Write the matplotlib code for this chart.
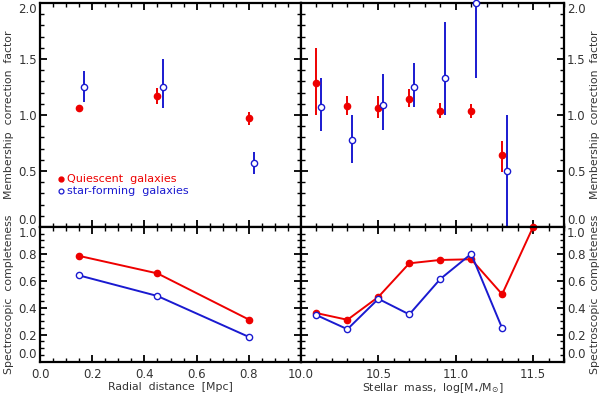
import matplotlib
matplotlib.use("Agg")
import matplotlib.pyplot as plt
from matplotlib.ticker import MultipleLocator
import numpy as np

# ---------------- data ----------------
# Radial distance panel (membership correction factor)
rad_q_x = [0.15, 0.45, 0.80]
rad_q_y = [1.06, 1.17, 0.97]
rad_q_lo = [1.04, 1.10, 0.91]
rad_q_hi = [1.08, 1.24, 1.03]

rad_sf_x = [0.17, 0.47, 0.82]
rad_sf_y = [1.25, 1.25, 0.57]
rad_sf_lo = [1.12, 1.06, 0.47]
rad_sf_hi = [1.39, 1.50, 0.67]

# Stellar mass panel (membership correction factor)
mass_q_x = [10.1, 10.3, 10.5, 10.7, 10.9, 11.1, 11.3]
mass_q_y = [1.29, 1.08, 1.06, 1.14, 1.04, 1.04, 0.64]
mass_q_lo = [1.00, 1.00, 0.97, 1.07, 0.97, 0.97, 0.49]
mass_q_hi = [1.60, 1.17, 1.17, 1.23, 1.11, 1.10, 0.77]

mass_sf_x = [10.13, 10.33, 10.53, 10.73, 10.93, 11.13, 11.33]
mass_sf_y = [1.07, 0.78, 1.09, 1.25, 1.33, 2.00, 0.50]
mass_sf_lo = [0.86, 0.57, 0.87, 1.07, 1.00, 1.33, 0.00]
mass_sf_hi = [1.33, 1.00, 1.37, 1.46, 1.83, 2.60, 1.00]

# Spectroscopic completeness
comp_rad_x = [0.15, 0.45, 0.80]
comp_rad_q = [0.785, 0.655, 0.312]
comp_rad_sf = [0.64, 0.487, 0.183]

comp_mass_q_x = [10.1, 10.3, 10.5, 10.7, 10.9, 11.1, 11.3, 11.5]
comp_mass_q = [0.36, 0.31, 0.48, 0.73, 0.755, 0.76, 0.50, 1.00]
comp_mass_sf_x = [10.1, 10.3, 10.5, 10.7, 10.9, 11.1, 11.3]
comp_mass_sf = [0.345, 0.24, 0.466, 0.35, 0.613, 0.80, 0.248]

top_yticks = [0.0, 0.5, 1.0, 1.5, 2.0]
bot_yticks = [0.0, 0.2, 0.4, 0.6, 0.8, 1.0]
rad_xticks = [0.0, 0.2, 0.4, 0.6, 0.8]
mass_xticks = [10.0, 10.5, 11.0, 11.5]

RED = "#ee0000"
BLUE = "#1a1ad0"
TXT = "#333333"

plt.rcParams['font.family'] = ['DejaVu Sans']
plt.rcParams['font.size'] = 8

TICK_FS = 8.5
LAB_FS = 7.8

fig = plt.figure(figsize=(6.0, 3.96), dpi=100)

L0, W0 = 40/600, 261/600
L1, W1 = 301/600, 263/600
B_top, H_top = 1 - 227/396, 224/396
B_bot, H_bot = 1 - 361.5/396, 134.5/396

ax_tl = fig.add_axes([L0, B_top, W0, H_top])
ax_tr = fig.add_axes([L1, B_top, W1, H_top])
ax_bl = fig.add_axes([L0, B_bot, W0, H_bot])
ax_br = fig.add_axes([L1, B_bot, W1, H_bot])


def style(ax):
    for s in ax.spines.values():
        s.set_linewidth(1.6)
        s.set_color("black")
    ax.tick_params(which="both", direction="in", top=True, right=True,
                   color="black", labelcolor=TXT, labelsize=TICK_FS, pad=2)
    ax.tick_params(axis="x", which="both", pad=4.5)
    ax.tick_params(which="major", length=5, width=1.3)
    ax.tick_params(which="minor", length=3, width=1.0)


def errpts(ax, x, y, lo, hi, color, filled):
    x = np.asarray(x); y = np.asarray(y)
    yerr = [y - np.asarray(lo), np.asarray(hi) - y]
    ax.errorbar(x, y, yerr=yerr, fmt="none", ecolor=color, elinewidth=1.4,
                capsize=0, zorder=2)
    if filled:
        ax.plot(x, y, "o", ms=4.5, color=color, mec=color, zorder=3, clip_on=False)
    else:
        ax.plot(x, y, "o", ms=4.5, mfc="white", mec=color, mew=1.0, zorder=3,
                clip_on=False)


# top-left
errpts(ax_tl, rad_q_x, rad_q_y, rad_q_lo, rad_q_hi, RED, True)
errpts(ax_tl, rad_sf_x, rad_sf_y, rad_sf_lo, rad_sf_hi, BLUE, False)
ax_tl.set_xlim(0, 1.0)
ax_tl.set_ylim(0, 2.0)
ax_tl.set_ylabel("Membership  correction  factor", color=TXT, fontsize=LAB_FS, labelpad=3)
ax_tl.xaxis.set_major_locator(MultipleLocator(0.2))
ax_tl.xaxis.set_minor_locator(MultipleLocator(0.05))
ax_tl.yaxis.set_minor_locator(MultipleLocator(0.1))
ax_tl.set_xticklabels([])
ax_tl.set_yticks(top_yticks)
ax_tl.set_yticklabels([f"{v:.1f}" for v in top_yticks])
style(ax_tl)

# legend
ax_tl.plot([0.08], [0.425], "o", ms=3.5, color=RED)
ax_tl.text(0.103, 0.425, "Quiescent  galaxies", color=RED, va="center", fontsize=8)
ax_tl.plot([0.08], [0.32], "o", ms=3.5, mfc="white", mec=BLUE, mew=0.9)
ax_tl.text(0.103, 0.32, "star-forming  galaxies", color=BLUE, va="center", fontsize=8)

# top-right
errpts(ax_tr, mass_q_x, mass_q_y, mass_q_lo, mass_q_hi, RED, True)
errpts(ax_tr, mass_sf_x, mass_sf_y, mass_sf_lo, mass_sf_hi, BLUE, False)
ax_tr.set_xlim(10.0, 11.7)
ax_tr.set_ylim(0, 2.0)
ax_tr.xaxis.set_major_locator(MultipleLocator(0.5))
ax_tr.xaxis.set_minor_locator(MultipleLocator(0.1))
ax_tr.yaxis.set_minor_locator(MultipleLocator(0.1))
ax_tr.set_xticklabels([])
style(ax_tr)
ax_tr.yaxis.tick_right()
ax_tr.yaxis.set_label_position("right")
ax_tr.tick_params(which="both", left=True, right=True)
ax_tr.set_yticks(top_yticks)
ax_tr.set_yticklabels([f"{v:.1f}" for v in top_yticks])
ax_tr.set_ylabel("Membership  correction  factor", color=TXT, fontsize=LAB_FS, labelpad=3)

# bottom-left
ax_bl.plot(comp_rad_x, comp_rad_q, "-o", color=RED, lw=1.4, ms=4.5, clip_on=False)
ax_bl.plot(comp_rad_x, comp_rad_sf, "-o", color=BLUE, lw=1.4, ms=4.5,
           mfc="white", mec=BLUE, mew=1.0, clip_on=False)
ax_bl.set_xlim(0, 1.0)
ax_bl.set_ylim(0, 1.0)
ax_bl.xaxis.set_minor_locator(MultipleLocator(0.05))
ax_bl.yaxis.set_minor_locator(MultipleLocator(0.05))
ax_bl.set_xticks(rad_xticks)
ax_bl.set_xticklabels([f"{v:.1f}" for v in rad_xticks])
ax_bl.set_yticks(bot_yticks)
ax_bl.set_yticklabels([f"{v:.1f}" for v in bot_yticks])
ax_bl.set_xlabel("Radial  distance  [Mpc]", color=TXT, fontsize=LAB_FS, labelpad=1)
ax_bl.set_ylabel("Spectroscopic  completeness", color=TXT, fontsize=LAB_FS, labelpad=3)
style(ax_bl)

# bottom-right
ax_br.plot(comp_mass_q_x, comp_mass_q, "-o", color=RED, lw=1.4, ms=4.5, clip_on=False)
ax_br.plot(comp_mass_sf_x, comp_mass_sf, "-o", color=BLUE, lw=1.4, ms=4.5,
           mfc="white", mec=BLUE, mew=1.0, clip_on=False)
ax_br.set_xlim(10.0, 11.7)
ax_br.set_ylim(0, 1.0)
ax_br.xaxis.set_minor_locator(MultipleLocator(0.1))
ax_br.yaxis.set_minor_locator(MultipleLocator(0.05))
ax_br.set_xticks(mass_xticks)
ax_br.set_xticklabels([f"{v:.1f}" for v in mass_xticks])
ax_br.set_xlabel(r"Stellar  mass,  log[M$_{\bullet}$/M$_{\odot}$]", color=TXT,
                 fontsize=LAB_FS, labelpad=0)
style(ax_br)
ax_br.yaxis.tick_right()
ax_br.yaxis.set_label_position("right")
ax_br.tick_params(which="both", left=True, right=True)
ax_br.set_yticks(bot_yticks)
ax_br.set_yticklabels([f"{v:.1f}" for v in bot_yticks])
ax_br.set_ylabel("Spectroscopic  completeness", color=TXT, fontsize=LAB_FS, labelpad=3)

# nudge the edge labels like the reference
for ax in (ax_tl, ax_tr):
    labs = ax.get_yticklabels()
    labs[0].set_va("bottom")
    labs[-1].set_va("top")
for ax in (ax_bl, ax_br):
    labs = ax.get_yticklabels()
    labs[-1].set_va("top")
    labs[0].set_va("bottom")

fig.savefig("out.png", dpi=100)
